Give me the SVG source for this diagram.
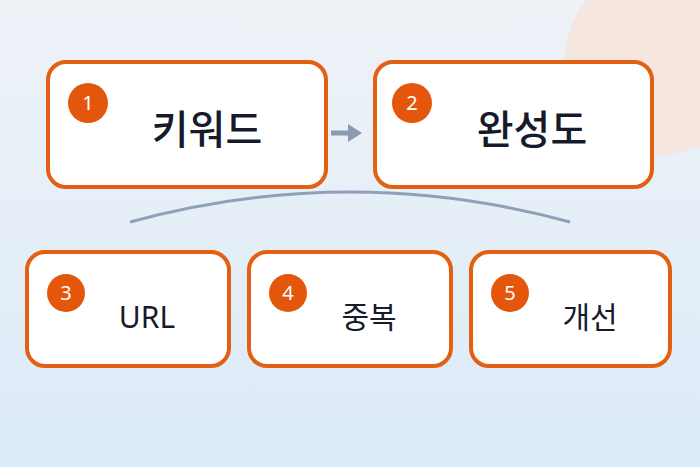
<svg xmlns="http://www.w3.org/2000/svg" width="700" height="467" viewBox="0 0 700 467">
<defs>
<linearGradient id="bg" x1="0" y1="0" x2="0" y2="1"><stop offset="0" stop-color="#eef2f7"/><stop offset="1" stop-color="#dcebf8"/></linearGradient>
<style>
.box{fill:#fff;stroke:#e35f12;stroke-width:4}
.num{fill:#e4560c}
.nt{fill:#fff;font-family:"Noto Sans","Noto Sans CJK KR",sans-serif;font-size:20px;text-anchor:middle}
.big{fill:#161a2b;font-family:"Noto Sans CJK KR",sans-serif;font-size:40px;font-weight:500;text-anchor:middle}
.sm{fill:#161a2b;font-family:"Noto Sans","Noto Sans CJK KR",sans-serif;font-size:30px;text-anchor:middle}
</style>
</defs>
<rect width="700" height="467" fill="url(#bg)"/>
<circle cx="660" cy="60" r="95" fill="#f5e7e0"/>
<g id="connectors">
<path d="M331 133 H352" stroke="#8a9bb0" stroke-width="5"/>
<path d="M348 124 L362 133 L348 142 Z" fill="#8a9bb0"/>
<path d="M130 222 Q350 162 570 222" fill="none" stroke="#8fa0b8" stroke-width="3"/>
</g>
<g id="n1"><rect class="box" x="48" y="62" width="278" height="125" rx="18"/><circle class="num" cx="88" cy="103" r="20"/><text class="nt" x="88" y="110">1</text><text class="big" x="207" y="144">키워드</text></g>
<g id="n2"><rect class="box" x="375" y="62" width="277" height="125" rx="18"/><circle class="num" cx="412" cy="103" r="20"/><text class="nt" x="412" y="110">2</text><text class="big" x="532" y="144">완성도</text></g>
<g id="n3"><rect class="box" x="27" y="252" width="202" height="114" rx="18"/><circle class="num" cx="66" cy="293" r="19"/><text class="nt" x="66" y="300">3</text><text class="sm" x="147" y="328">URL</text></g>
<g id="n4"><rect class="box" x="249" y="252" width="202" height="114" rx="18"/><circle class="num" cx="288" cy="293" r="19"/><text class="nt" x="288" y="300">4</text><text class="sm" x="369" y="328">중복</text></g>
<g id="n5"><rect class="box" x="471" y="252" width="199" height="114" rx="18"/><circle class="num" cx="510" cy="293" r="19"/><text class="nt" x="510" y="300">5</text><text class="sm" x="590" y="328">개선</text></g>
</svg>
